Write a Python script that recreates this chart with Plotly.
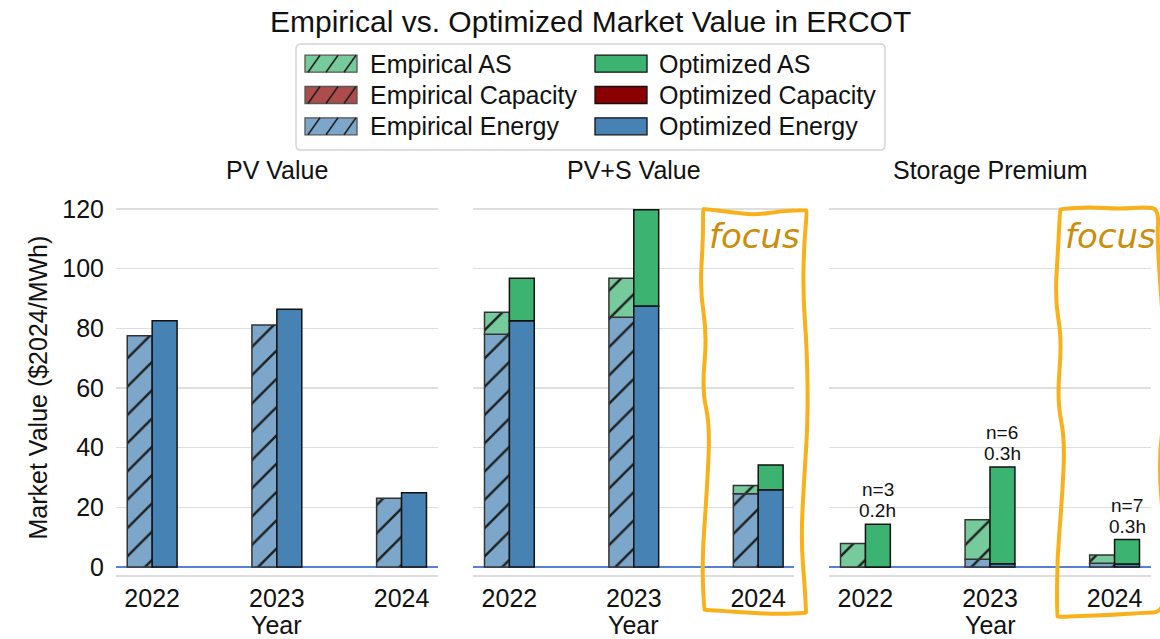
import plotly.graph_objects as go

# ---------------- data ----------------
years = ["2022", "2023", "2024"]

pv_emp_energy = [77.5, 81.1, 23.0]
pv_opt_energy = [82.5, 86.4, 24.9]

pvs_emp_energy = [78.0, 83.7, 24.5]
pvs_emp_capacity = [0.0, 0.0, 0.0]
pvs_emp_as = [7.4, 13.1, 2.8]
pvs_opt_energy = [82.5, 87.5, 25.9]
pvs_opt_capacity = [0.0, 0.0, 0.0]
pvs_opt_as = [14.3, 32.2, 8.3]

sp_emp_energy = [0.0, 2.6, 1.2]
sp_emp_capacity = [0.0, 0.0, 0.0]
sp_emp_as = [7.9, 13.2, 2.8]
sp_opt_energy = [0.0, 1.1, 1.0]
sp_opt_capacity = [0.0, 0.0, 0.0]
sp_opt_as = [14.3, 32.4, 8.2]

n_projects = [3, 6, 7]
durations_h = [0.2, 0.3, 0.3]

panel_titles = ["PV Value", "PV+S Value", "Storage Premium"]
legend_labels = ["Empirical AS", "Empirical Capacity", "Empirical Energy",
                 "Optimized AS", "Optimized Capacity", "Optimized Energy"]

# ---------------- styles ----------------
OFF = 0  # body margin removed by post_script below
W, H = 1160 - OFF, 639 - OFF
FONT = "Liberation Sans, Arial, sans-serif"
C_ENERGY = "#4682B4"
C_ENERGY_L = "#7DA7CA"
C_AS = "#3CB371"
C_AS_L = "#76CA9C"
C_CAP = "#8B0000"
C_CAP_L = "#AE4C4C"
ORANGE = "#F8B11A"
TXT = "#111111"
FS = 25
BAR_W = 0.2
xs = list(range(len(years)))


def px(x):
    return (x - OFF) / W


def py(y):
    return 1 - (y - OFF) / H


fig = go.Figure()


def add_bar(axis_idx, values, base, color, hatched, name):
    suffix = "" if axis_idx == 1 else str(axis_idx)
    marker = dict(color=color,
                  line=dict(color="#333333" if hatched else "#111111", width=1.5))
    if hatched:
        marker["pattern"] = dict(shape="/", fgcolor="#1e1e1e", bgcolor=color,
                                 size=20, solidity=0.12, fillmode="replace")
    if all(v == 0 for v in values):
        marker["line"] = dict(width=0)
    fig.add_trace(go.Bar(
        x=xs, y=values, base=base, width=BAR_W,
        offset=-BAR_W if hatched else 0.0,
        marker=marker, name=name, showlegend=False,
        xaxis="x" + suffix, yaxis="y" + suffix,
    ))


def stack_panel(axis_idx, e_en, e_cap, e_as, o_en, o_cap, o_as):
    add_bar(axis_idx, e_en, [0] * 3, C_ENERGY_L, True, "Empirical Energy")
    add_bar(axis_idx, e_cap, e_en, C_CAP_L, True, "Empirical Capacity")
    add_bar(axis_idx, e_as, [a + b for a, b in zip(e_en, e_cap)], C_AS_L, True, "Empirical AS")
    add_bar(axis_idx, o_en, [0] * 3, C_ENERGY, False, "Optimized Energy")
    add_bar(axis_idx, o_cap, o_en, C_CAP, False, "Optimized Capacity")
    add_bar(axis_idx, o_as, [a + b for a, b in zip(o_en, o_cap)], C_AS, False, "Optimized AS")


add_bar(1, pv_emp_energy, [0] * 3, C_ENERGY_L, True, "Empirical Energy")
add_bar(1, pv_opt_energy, [0] * 3, C_ENERGY, False, "Optimized Energy")
stack_panel(2, pvs_emp_energy, pvs_emp_capacity, pvs_emp_as,
            pvs_opt_energy, pvs_opt_capacity, pvs_opt_as)
stack_panel(3, sp_emp_energy, sp_emp_capacity, sp_emp_as,
            sp_opt_energy, sp_opt_capacity, sp_opt_as)

# ---------------- axes ----------------
x_domains = [[px(116), px(437.7)], [px(473.3), px(794.3)], [px(829.3), px(1150.7)]]
y_domain = [py(575), py(200)]

layout = dict(
    width=W, height=H,
    margin=dict(l=0, r=0, t=0, b=0),
    paper_bgcolor="white", plot_bgcolor="white",
    barmode="overlay",
    font=dict(family=FONT, size=FS, color=TXT),
    showlegend=False,
)
for i in range(3):
    s = "" if i == 0 else str(i + 1)
    layout["xaxis" + s] = dict(
        domain=x_domains[i], anchor="y" + s, range=[-0.29, 2.29],
        tickmode="array", tickvals=xs, ticktext=years,
        showgrid=False, zeroline=False,
        showline=True, linecolor="#dcdcdc", linewidth=2,
        ticks="", ticklabelstandoff=0, automargin=False,
        tickfont=dict(size=FS),
    )
    layout["yaxis" + s] = dict(
        domain=y_domain, anchor="x" + s, range=[-2.7, 123],
        tickmode="array", tickvals=[0, 20, 40, 60, 80, 100, 120],
        showgrid=True, gridcolor="#dedede", gridwidth=1.3,
        zeroline=True, zerolinecolor="#5580D6", zerolinewidth=2,
        showline=False, ticks="", automargin=False,
        showticklabels=(i == 0), ticklabelstandoff=11,
        tickfont=dict(size=FS),
    )
    if i > 0:
        layout["yaxis" + s]["matches"] = "y"
fig.update_layout(**layout)

annotations = []
shapes = []

# main title
annotations.append(dict(text="Empirical vs. Optimized Market Value in ERCOT",
                        x=px(590), y=py(21), xref="paper", yref="paper",
                        xanchor="center", yanchor="middle", showarrow=False,
                        font=dict(size=30, color=TXT)))
# panel titles and x-axis titles
for i, t in enumerate(panel_titles):
    cx = (x_domains[i][0] + x_domains[i][1]) / 2
    annotations.append(dict(text=t, x=cx, y=py(170), xref="paper", yref="paper",
                            xanchor="center", yanchor="middle", showarrow=False,
                            font=dict(size=FS, color=TXT)))
    annotations.append(dict(text="Year", x=cx, y=py(625), xref="paper", yref="paper",
                            xanchor="center", yanchor="middle", showarrow=False,
                            font=dict(size=FS, color=TXT)))
# y-axis title
annotations.append(dict(text="Market Value ($2024/MWh)", x=px(37), y=py(387.5),
                        xref="paper", yref="paper", textangle=-90,
                        xanchor="center", yanchor="middle", showarrow=False,
                        font=dict(size=FS, color=TXT)))

# n / duration labels above optimized storage-premium bars
for i in range(len(years)):
    top = sp_opt_energy[i] + sp_opt_capacity[i] + sp_opt_as[i]
    for line_txt, shift in ((f"{durations_h[i]}h", 1), (f"n={n_projects[i]}", 22)):
        annotations.append(dict(text=line_txt,
                                x=xs[i] + BAR_W / 2, y=top, xref="x3", yref="y3",
                                xanchor="center", yanchor="bottom", yshift=shift,
                                showarrow=False, font=dict(size=19, color=TXT)))

# ---------------- manual legend ----------------
shapes.append(dict(type="path", xref="paper", yref="paper",
                   path=(f"M{px(301)},{py(44)} L{px(880)},{py(44)} "
                         f"Q{px(885)},{py(44)} {px(885)},{py(49)} L{px(885)},{py(145)} "
                         f"Q{px(885)},{py(150)} {px(880)},{py(150)} L{px(301)},{py(150)} "
                         f"Q{px(296)},{py(150)} {px(296)},{py(145)} L{px(296)},{py(49)} "
                         f"Q{px(296)},{py(44)} {px(301)},{py(44)} Z"),
                   line=dict(color="#d4d4d4", width=1.5), fillcolor="white", layer="below"))

rows_y = [63.7, 95.0, 126.3]
col_defs = [
    (305, 368, [(C_AS_L, True), (C_CAP_L, True), (C_ENERGY_L, True)], legend_labels[:3]),
    (595, 657, [(C_AS, False), (C_CAP, False), (C_ENERGY, False)], legend_labels[3:]),
]
SW_W, SW_H = 52, 17
for sx, tx, styles, labels in col_defs:
    for ry, (col, hatched), lab in zip(rows_y, styles, labels):
        x0, x1 = sx, sx + SW_W
        y0, y1 = ry - SW_H / 2, ry + SW_H / 2
        shapes.append(dict(type="rect", xref="paper", yref="paper",
                           x0=px(x0), x1=px(x1), y0=py(y1), y1=py(y0),
                           fillcolor=col,
                           line=dict(color="#555555" if hatched else "#111111", width=1.3)))
        if hatched:
            for k in range(3):
                bx = x0 + 3 + k * 18
                tx_end = bx + 12
                ty = y0
                if tx_end > x1:
                    frac = (x1 - bx) / 12
                    tx_end = x1
                    ty = y1 - frac * SW_H
                shapes.append(dict(type="line", xref="paper", yref="paper",
                                   x0=px(bx), y0=py(y1), x1=px(tx_end), y1=py(ty),
                                   line=dict(color="#222222", width=1.6)))
        annotations.append(dict(text=lab, x=px(tx), y=py(ry), xref="paper", yref="paper",
                                xanchor="left", yanchor="middle", showarrow=False,
                                font=dict(size=FS, color=TXT)))


# ---------------- focus boxes ----------------
def smooth_closed(points):
    n = len(points)
    mids = [((points[i][0] + points[(i + 1) % n][0]) / 2,
             (points[i][1] + points[(i + 1) % n][1]) / 2) for i in range(n)]
    d = f"M{px(mids[-1][0])},{py(mids[-1][1])} "
    for i in range(n):
        cx, cy = points[i]
        mx, my = mids[i]
        d += f"Q{px(cx)},{py(cy)} {px(mx)},{py(my)} "
    return d + "Z"


box2 = [(703, 209), (704, 209), (730, 212), (755, 215), (782, 211), (806, 210), (807, 211),
        (804, 245), (803, 295), (807, 350), (808, 420), (804, 480), (801, 540), (805, 590),
        (806, 612), (806, 613), (780, 614), (750, 613), (725, 611), (705, 610), (704, 609),
        (702, 560), (707, 490), (710, 425), (702, 390), (707, 335), (700, 290), (703, 240)]
box3 = [(1060, 210), (1061, 209), (1090, 207), (1120, 209), (1145, 207), (1159, 209),
        (1157, 240), (1163, 320), (1167, 400), (1158, 460), (1165, 540), (1167, 612),
        (1140, 613), (1110, 615), (1080, 616), (1058, 617), (1057, 616),
        (1057, 560), (1062, 500), (1065, 440), (1057, 400), (1062, 340), (1055, 300),
        (1058, 250)]
for b in (box2, box3):
    shapes.append(dict(type="path", xref="paper", yref="paper", path=smooth_closed(b),
                       line=dict(color=ORANGE, width=4), fillcolor="rgba(0,0,0,0)",
                       layer="above"))

for cx in (754, 1110):
    annotations.append(dict(text="focus", x=px(cx), y=py(236), xref="paper", yref="paper",
                            xanchor="center", yanchor="middle", showarrow=False,
                            font=dict(family="DejaVu Sans", size=34, color="#C98E0B",
                                      style="italic")))

fig.update_layout(annotations=annotations, shapes=shapes)
fig.write_html("out.html",
               config={"displayModeBar": False, "staticPlot": True},
               post_script="document.body.style.margin='0';document.body.style.overflow='hidden';")
